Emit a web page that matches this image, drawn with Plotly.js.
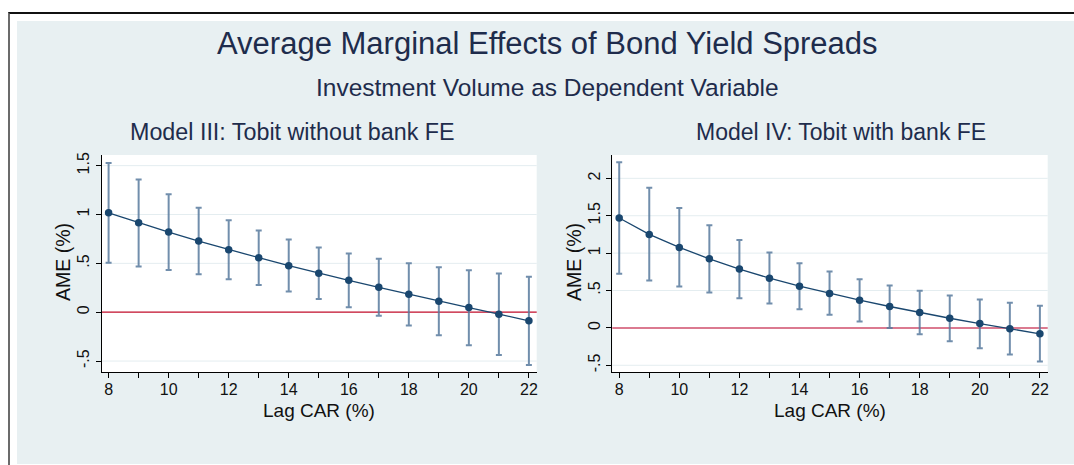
<!DOCTYPE html>
<html>
<head>
<meta charset="utf-8">
<script src="https://cdn.plot.ly/plotly-3.0.1.min.js"></script>
<style>
  html, body { margin: 0; padding: 0; background: #ffffff; width: 1074px; height: 465px; overflow: hidden; }
  #frame { position: absolute; left: 8px; top: 12px; width: 1070px; height: 460px;
           border-top: 2px solid #111111; border-left: 2px solid #6b6b6b; }
  #bg { position: absolute; left: 17px; top: 21px; width: 1057px; height: 443px; background: #e8f0f2; }
  #chart { position: absolute; left: 0; top: 0; width: 1074px; height: 465px; }
</style>
</head>
<body>
<div id="frame"></div>
<div id="bg"></div>
<div id="chart"></div>
<script>
// ---- data ----
const lagCAR = [8, 9, 10, 11, 12, 13, 14, 15, 16, 17, 18, 19, 20, 21, 22];

// Model III: Tobit without bank FE
const ameM3  = [1.017, 0.915, 0.820, 0.728, 0.639, 0.558, 0.476, 0.398, 0.327, 0.255, 0.184, 0.112, 0.048, -0.020, -0.088];
const highM3 = [1.527, 1.357, 1.207, 1.068, 0.942, 0.837, 0.745, 0.663, 0.602, 0.548, 0.500, 0.459, 0.429, 0.395, 0.364];
const lowM3  = [0.507, 0.469, 0.432, 0.388, 0.337, 0.279, 0.211, 0.136, 0.051, -0.037, -0.136, -0.235, -0.337, -0.439, -0.541];

// Model IV: Tobit with bank FE
const ameM4  = [1.469, 1.250, 1.076, 0.924, 0.786, 0.665, 0.558, 0.460, 0.371, 0.286, 0.205, 0.129, 0.058, -0.013, -0.080];
const highM4 = [2.214, 1.875, 1.603, 1.371, 1.174, 1.009, 0.866, 0.754, 0.652, 0.567, 0.496, 0.433, 0.379, 0.335, 0.295];
const lowM4  = [0.723, 0.634, 0.554, 0.473, 0.397, 0.326, 0.250, 0.174, 0.085, 0.000, -0.085, -0.179, -0.272, -0.357, -0.451];

// tick labels
const xTickVals = [8, 9, 10, 11, 12, 13, 14, 15, 16, 17, 18, 19, 20, 21, 22];
const xTickText = ['8', '', '10', '', '12', '', '14', '', '16', '', '18', '', '20', '', '22'];
const yTickValsM3 = [-0.5, 0, 0.5, 1, 1.5];
const yTickTextM3 = ['-.5', '0', '.5', '1', '1.5'];
const yTickValsM4 = [-0.5, 0, 0.5, 1, 1.5, 2];
const yTickTextM4 = ['-.5', '0', '.5', '1', '1.5', '2'];
const refLineY = 0;

const titleMain = 'Average Marginal Effects of Bond Yield Spreads';
const titleSub = 'Investment Volume as Dependent Variable';
const titleM3 = 'Model III: Tobit without bank FE';
const titleM4 = 'Model IV: Tobit with bank FE';
const xTitle = 'Lag CAR (%)';
const yTitle = 'AME (%)';

// ---- styling ----
const FONT = 'Liberation Sans, Arial, Helvetica, sans-serif';
const NAVY = '#1a476f';
const TITLE_COL = '#1e2c4c';
const ERR_COL = 'rgba(88,122,158,0.85)';
const GRID_COL = '#e4edf0';

function trace(y, hi, lo, xa, ya) {
  return {
    x: lagCAR, y: y, xaxis: xa, yaxis: ya,
    type: 'scatter', mode: 'lines+markers',
    line: { color: NAVY, width: 1.3 },
    marker: { color: NAVY, size: 7.5 },
    error_y: {
      type: 'data', symmetric: false,
      array: hi.map((v, i) => v - y[i]),
      arrayminus: lo.map((v, i) => y[i] - v),
      color: ERR_COL, thickness: 2, width: 3
    },
    hoverinfo: 'x+y', showlegend: false
  };
}

const data = [
  trace(ameM3, highM3, lowM3, 'x', 'y'),
  trace(ameM4, highM4, lowM4, 'x2', 'y2')
];

const W = 1074, H = 465;
const px = v => v / W;
const py = v => 1 - v / H;

function xaxis(d0, d1, anchor) {
  return {
    domain: [d0, d1], anchor: anchor, range: [7.77, 22.26],
    tickmode: 'array', tickvals: xTickVals, ticktext: xTickText,
    ticks: 'outside', ticklen: 5, tickwidth: 1, tickcolor: '#000',
    ticklabelstandoff: -2,
    showline: true, linecolor: '#000', linewidth: 1,
    showgrid: false, zeroline: false,
    tickfont: { family: FONT, size: 16, color: '#111' }
  };
}
function yaxis(range, vals, text, anchor) {
  return {
    domain: [py(372), py(155)], anchor: anchor, range: range,
    tickmode: 'array', tickvals: vals, ticktext: text, tickangle: -90,
    ticks: 'outside', ticklen: 5, tickwidth: 1, tickcolor: '#000',
    showline: true, linecolor: '#000', linewidth: 1,
    showgrid: false, zeroline: false,
    tickfont: { family: FONT, size: 16, color: '#111' }
  };
}

function gridShapes(vals, xd, ya) {
  return vals.map(v => ({
    type: 'line', xref: xd, yref: ya, x0: 0, x1: 1, y0: v, y1: v,
    line: { color: GRID_COL, width: 1 }, layer: 'below'
  }));
}

function ann(text, x, y, size, color, angle) {
  return {
    text: text, xref: 'paper', yref: 'paper', x: x, y: y,
    xanchor: 'center', yanchor: 'middle', showarrow: false,
    textangle: angle || 0,
    font: { family: FONT, size: size, color: color }
  };
}

const layout = {
  width: W, height: H,
  margin: { l: 0, r: 0, t: 0, b: 0, pad: 0 },
  paper_bgcolor: 'rgba(0,0,0,0)',
  plot_bgcolor: '#ffffff',
  showlegend: false,
  xaxis: xaxis(px(101.7), px(536.7), 'y'),
  yaxis: yaxis([-0.612, 1.609], yTickValsM3, yTickTextM3, 'x'),
  xaxis2: xaxis(px(612.3), px(1047.7), 'y2'),
  yaxis2: yaxis([-0.59, 2.312], yTickValsM4, yTickTextM4, 'x2'),
  shapes: [].concat(
    gridShapes(yTickValsM3, 'x domain', 'y'),
    gridShapes(yTickValsM4, 'x2 domain', 'y2'),
    [
      { type: 'line', xref: 'x domain', yref: 'y', x0: 0, x1: 1, y0: refLineY, y1: refLineY,
        line: { color: '#c8102e', width: 1.3 }, layer: 'below' },
      { type: 'line', xref: 'x2 domain', yref: 'y2', x0: 0, x1: 1, y0: refLineY, y1: refLineY,
        line: { color: '#db7a90', width: 2 }, layer: 'below' }
    ]
  ),
  annotations: [
    ann(titleMain, px(547), py(44), 31, TITLE_COL),
    ann(titleSub, px(547), py(88), 24.5, TITLE_COL),
    ann(titleM3, px(292.5), py(132), 23.3, TITLE_COL),
    ann(titleM4, px(840.5), py(132), 23, TITLE_COL),
    ann(xTitle, px(319), py(410), 19, '#111'),
    ann(xTitle, px(830), py(410), 19, '#111'),
    ann(yTitle, px(63), py(262), 19.5, '#111', -90),
    ann(yTitle, px(574), py(262), 19.5, '#111', -90)
  ]
};

Plotly.newPlot('chart', data, layout, { displayModeBar: false, staticPlot: true });
</script>
</body>
</html>
